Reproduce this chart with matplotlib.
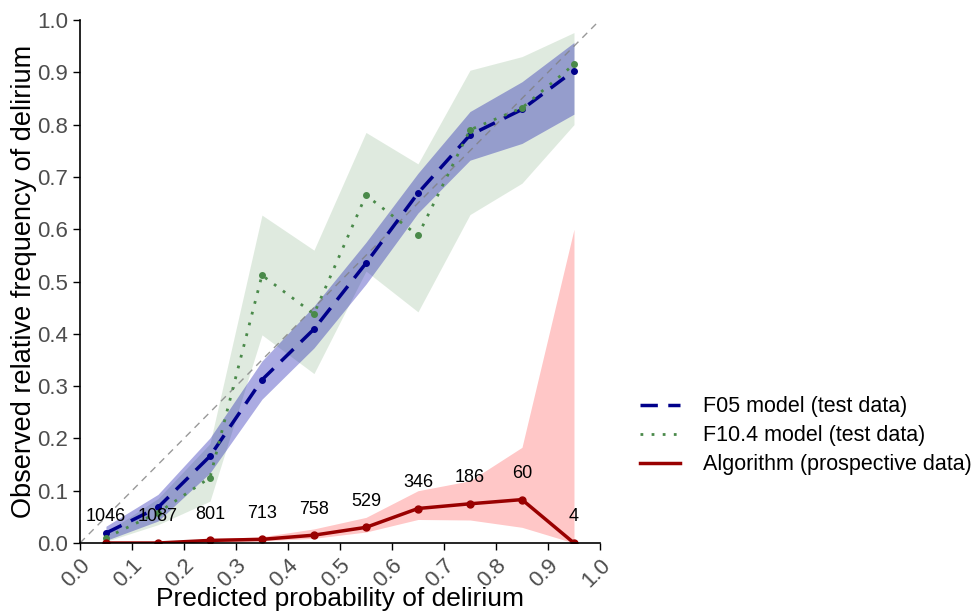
import matplotlib.pyplot as plt
import numpy as np

plt.rcParams['font.family'] = ['Liberation Sans', 'DejaVu Sans']

# bin centres of predicted probability
bins = [0.05, 0.15, 0.25, 0.35, 0.45, 0.55, 0.65, 0.75, 0.85, 0.95]

# F05 model on test data
f05 = [0.019, 0.068, 0.166, 0.312, 0.409, 0.535, 0.669, 0.780, 0.829, 0.903]
f05_lo = [0.005, 0.042, 0.134, 0.275, 0.373, 0.495, 0.631, 0.732, 0.764, 0.820]
f05_hi = [0.032, 0.093, 0.201, 0.348, 0.453, 0.575, 0.707, 0.825, 0.882, 0.957]

# F10.4 model on test data
f104 = [0.010, 0.058, 0.125, 0.512, 0.438, 0.665, 0.588, 0.790, 0.832, 0.915]
f104_lo = [0.003, 0.035, 0.080, 0.398, 0.324, 0.520, 0.442, 0.628, 0.688, 0.800]
f104_hi = [0.020, 0.085, 0.190, 0.627, 0.560, 0.785, 0.725, 0.904, 0.930, 0.976]

# algorithm on prospective data
algo = [0.0, 0.0, 0.005, 0.007, 0.015, 0.030, 0.066, 0.075, 0.083, 0.0]
algo_lo = [0.0, 0.0, 0.002, 0.004, 0.009, 0.021, 0.045, 0.044, 0.030, 0.0]
algo_hi = [0.002, 0.003, 0.008, 0.012, 0.027, 0.049, 0.100, 0.119, 0.183, 0.600]
counts = [1046, 1087, 801, 713, 758, 529, 346, 186, 60, 4]

fig = plt.figure(figsize=(9.74, 6.14), dpi=100)
ax = fig.add_axes([0.0821, 0.1156, 0.5339, 0.8518])

ax.plot([0, 1], [0, 1], color='grey', ls=(0, (5, 4)), lw=1, alpha=0.8)

ax.fill_between(bins, f104_lo, f104_hi, color='#4f8f4f', alpha=0.18, lw=0)
ax.fill_between(bins, f05_lo, f05_hi, color='#0000a8', alpha=0.33, lw=0)
ax.fill_between(bins, algo_lo, algo_hi, color='red', alpha=0.22, lw=0)

ax.plot(bins, f05, color='#00008b', ls=(0, (5, 3)), lw=2.5, marker='o', ms=4,
        label='F05 model (test data)')
ax.plot(bins, f104, color='#4a8a4a', ls=(0, (1, 3)), lw=2, marker='o', ms=4,
        label='F10.4 model (test data)')
ax.plot(bins, algo, color='#990000', lw=2.5, marker='o', ms=5,
        label='Algorithm (prospective data)')

for xb, yb, n in zip(bins, algo, counts):
    ax.text(xb, yb + 0.05, str(n), ha='center', va='center', fontsize=13)

ax.set_xlim(0, 1)
ax.set_ylim(0, 1)
ax.set_xticks(np.arange(0, 1.01, 0.1))
ax.set_yticks(np.arange(0, 1.01, 0.1))
ax.set_xticklabels(['%.1f' % v for v in np.arange(0, 1.01, 0.1)],
                   rotation=45, ha='right', rotation_mode='anchor')
ax.tick_params(labelsize=16, labelcolor='#4d4d4d', length=5, width=1)
for s in ['top', 'right']:
    ax.spines[s].set_visible(False)
ax.spines['left'].set_linewidth(1.2)
ax.spines['bottom'].set_linewidth(1.2)

ax.set_xlabel('Predicted probability of delirium', fontsize=19, labelpad=-3)
ax.set_ylabel('Observed relative frequency of delirium', fontsize=19.5, labelpad=0)

leg = ax.legend(loc='center left', bbox_to_anchor=(1.04, 0.205), frameon=False,
                fontsize=15.5, handlelength=1.86, handletextpad=1.05,
                labelspacing=0.37)
for h in leg.get_lines():
    h.set_marker('')

fig.savefig('out.png', dpi=100)
